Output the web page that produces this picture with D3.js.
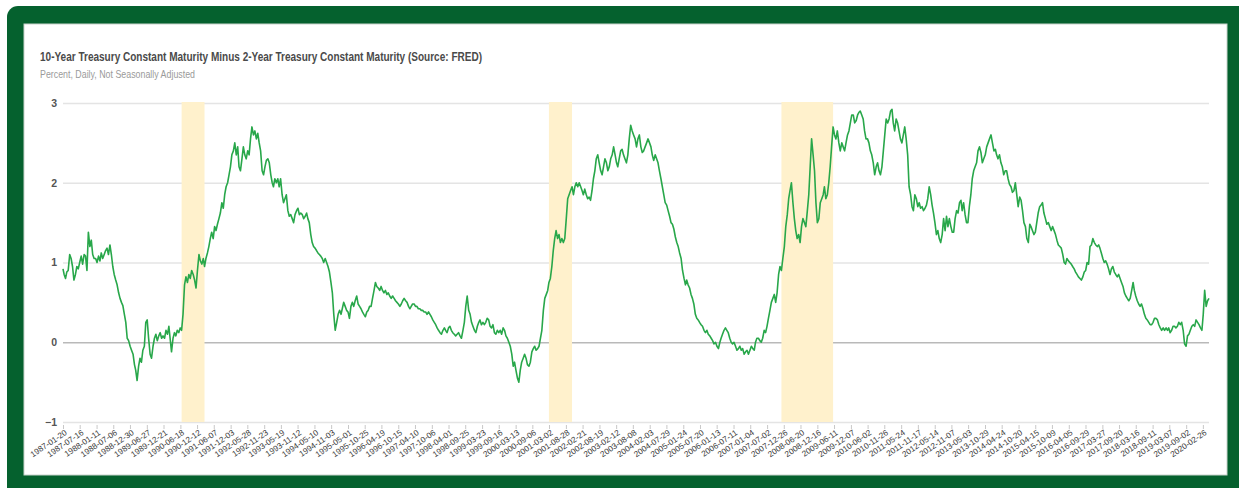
<!DOCTYPE html>
<html>
<head>
<meta charset="utf-8">
<script src="https://cdn.jsdelivr.net/npm/d3@7"></script>
<style>
  html, body { margin: 0; padding: 0; background: #fff; }
  svg { display: block; font-family: "Liberation Sans", Arial, sans-serif; }
</style>
</head>
<body>
<svg id="chart" width="1239" height="488"></svg>
<script>
// ---- Text ----
const chartTitle = "10-Year Treasury Constant Maturity Minus 2-Year Treasury Constant Maturity (Source: FRED)";
const chartSubtitle = "Percent, Daily, Not Seasonally Adjusted";

// ---- Axis ticks ----
const yTickValues = [-1, 0, 1, 2, 3];
const xTickLabels = [
  "1987-01-20","1987-07-16","1988-01-11","1988-07-06","1988-12-30","1989-06-27","1989-12-21",
  "1990-06-18","1990-12-12","1991-06-07","1991-12-03","1992-05-28","1992-11-23","1993-05-19",
  "1993-11-12","1994-05-10","1994-11-03","1995-05-01","1995-10-25","1996-04-19","1996-10-15",
  "1997-04-10","1997-10-06","1998-04-01","1998-09-25","1999-03-23","1999-09-16","2000-03-13",
  "2000-09-06","2001-03-02","2001-08-28","2002-02-21","2002-08-19","2003-02-12","2003-08-08",
  "2004-02-03","2004-07-29","2005-01-24","2005-07-20","2006-01-13","2006-07-11","2007-01-04",
  "2007-07-02","2007-12-26","2008-06-20","2008-12-16","2009-06-11","2009-12-07","2010-06-02",
  "2010-11-26","2011-05-24","2011-11-17","2012-05-14","2012-11-07","2013-05-03","2013-10-29",
  "2014-04-24","2014-10-20","2015-04-15","2015-10-09","2016-04-05","2016-09-29","2017-03-27",
  "2017-09-20","2018-03-16","2018-09-11","2019-03-07","2019-09-02","2020-02-26"
];

// ---- Recession periods (shaded) ----
const recessionStarts = ["1990-07-01", "2001-03-01", "2007-12-01"];
const recessionEnds   = ["1991-03-01", "2001-11-01", "2009-06-01"];

// ---- Spread values, percent ----
// first value is 1987-01-20, then the 1st and 16th of every month, last value 2020-05-01
const spread1987_1991 = [
  0.92, 0.85,0.80, 0.88,0.90, 1.10,1.05, 0.95,0.78, 0.85,0.95, 0.92,1.00, 1.08,0.98, 1.10,1.08, 0.90,1.38, 1.20,1.28, 1.10,1.05,
  1.05,1.00, 1.08,1.02, 1.12,1.05, 1.10,1.15, 1.18,1.10, 1.22,1.10, 0.95,0.85, 0.78,0.72, 0.62,0.55, 0.50,0.46, 0.35,0.25, 0.05,0.02,
  -0.05,-0.10, -0.15,-0.28, -0.35,-0.48, -0.30,-0.20, -0.25,-0.10, -0.05,0.25, 0.28,0.05, -0.15,-0.20, -0.05,0.05, 0.10,0.02, 0.08,0.12, 0.05,0.08,
  0.05,0.15, 0.10,0.20, 0.05,-0.12, 0.05,0.12, 0.08,0.15, 0.12,0.18, 0.15,0.35, 0.72,0.82, 0.75,0.85, 0.80,0.90, 0.85,0.78, 0.68,0.90,
  1.10,1.02, 0.98,1.05, 0.95,1.05, 1.12,1.20, 1.30,1.38, 1.30,1.45, 1.40,1.48, 1.55,1.62, 1.75,1.68, 1.85,1.95, 2.00,2.10, 2.20,2.35
];
const spread1992_1999 = [
  2.40,2.50, 2.35,2.45, 2.20,2.15, 2.30,2.45, 2.35,2.30, 2.40,2.35, 2.55,2.70, 2.60,2.65, 2.55,2.62, 2.50,2.40, 2.15,2.10, 2.20,2.28,
  2.30,2.25, 2.10,2.00, 1.95,2.05, 2.00,2.05, 1.95,2.05, 1.85,1.75, 1.80,1.85, 1.65,1.58, 1.60,1.55, 1.50,1.60, 1.65,1.68, 1.60,1.62,
  1.60,1.55, 1.58,1.62, 1.55,1.50, 1.35,1.25, 1.20,1.18, 1.15,1.12, 1.10,1.08, 1.05,1.00, 1.05,1.00, 0.95,0.88, 0.75,0.62, 0.35,0.15,
  0.25,0.35, 0.40,0.35, 0.42,0.50, 0.45,0.40, 0.38,0.30, 0.45,0.50, 0.45,0.52, 0.58,0.48, 0.45,0.42, 0.38,0.35, 0.32,0.38, 0.40,0.45,
  0.45,0.55, 0.65,0.75, 0.70,0.68, 0.65,0.70, 0.65,0.62, 0.65,0.60, 0.62,0.58, 0.55,0.58, 0.55,0.52, 0.50,0.48, 0.45,0.48, 0.52,0.55,
  0.52,0.50, 0.45,0.42, 0.45,0.48, 0.48,0.45, 0.45,0.42, 0.42,0.40, 0.40,0.38, 0.38,0.35, 0.38,0.35, 0.32,0.28, 0.25,0.22, 0.18,0.15,
  0.12,0.10, 0.15,0.18, 0.15,0.12, 0.18,0.20, 0.15,0.12, 0.10,0.08, 0.10,0.12, 0.08,0.05, 0.15,0.25, 0.45,0.58, 0.40,0.35, 0.25,0.20,
  0.15,0.12, 0.20,0.25, 0.28,0.22, 0.25,0.22, 0.25,0.30, 0.28,0.20, 0.18,0.22, 0.12,0.10, 0.15,0.12, 0.15,0.10, 0.18,0.15, 0.08,0.05
];
const spread2000_2007 = [
  0.00,-0.05, -0.15,-0.30, -0.25,-0.35, -0.45,-0.50, -0.35,-0.25, -0.20,-0.15, -0.20,-0.28, -0.30,-0.25, -0.12,-0.08, -0.05,-0.10, -0.08,-0.05, 0.05,0.15,
  0.40,0.55, 0.60,0.65, 0.75,0.80, 0.95,1.15, 1.30,1.40, 1.30,1.35, 1.25,1.30, 1.25,1.30, 1.55,1.80, 1.85,1.90, 1.95,1.85, 1.95,2.00,
  1.95,2.00, 1.95,1.90, 1.85,1.92, 1.85,1.80, 1.82,1.78, 1.90,2.05, 2.15,2.30, 2.35,2.25, 2.15,2.10, 2.20,2.30, 2.25,2.15, 2.20,2.30,
  2.35,2.45, 2.35,2.25, 2.20,2.30, 2.40,2.42, 2.35,2.30, 2.25,2.35, 2.55,2.72, 2.65,2.60, 2.55,2.45, 2.55,2.60, 2.45,2.38, 2.40,2.45,
  2.50,2.55, 2.50,2.45, 2.35,2.28, 2.35,2.30, 2.25,2.15, 2.05,1.95, 1.85,1.75, 1.72,1.65, 1.58,1.50, 1.48,1.42, 1.32,1.25, 1.20,1.12,
  1.05,0.90, 0.80,0.72, 0.78,0.72, 0.68,0.60, 0.55,0.48, 0.35,0.30, 0.28,0.25, 0.22,0.20, 0.15,0.12, 0.15,0.10, 0.08,0.05, 0.02,-0.02,
  0.00,-0.05, -0.08,0.00, 0.05,0.10, 0.15,0.18, 0.15,0.12, 0.05,0.00, -0.02,0.00, -0.05,-0.10, -0.08,-0.05, -0.10,-0.08, -0.15,-0.12, -0.10,-0.15,
  -0.10,-0.05, -0.08,-0.10, 0.00,0.05, 0.05,0.02, 0.00,0.05, 0.15,0.12, 0.20,0.30, 0.40,0.50, 0.55,0.60, 0.50,0.62, 0.85,0.95, 0.90,1.05
];
const spread2008_2013 = [
  1.20,1.45, 1.60,1.80, 1.90,2.00, 1.75,1.55, 1.40,1.30, 1.35,1.25, 1.45,1.55, 1.50,1.45, 1.65,1.85, 2.20,2.55, 2.35,2.15, 1.75,1.50,
  1.55,1.75, 1.80,1.85, 1.95,1.80, 1.85,2.00, 2.20,2.45, 2.70,2.60, 2.55,2.65, 2.50,2.40, 2.50,2.45, 2.40,2.50, 2.60,2.65, 2.75,2.85,
  2.85,2.75, 2.78,2.85, 2.88,2.90, 2.85,2.80, 2.65,2.55, 2.55,2.50, 2.40,2.35, 2.25,2.10, 2.20,2.25, 2.15,2.10, 2.20,2.40, 2.60,2.80,
  2.75,2.80, 2.90,2.92, 2.75,2.65, 2.80,2.75, 2.65,2.55, 2.50,2.60, 2.70,2.55, 2.35,1.95, 1.85,1.70, 1.65,1.85, 1.80,1.70, 1.75,1.68,
  1.70,1.65, 1.68,1.72, 1.80,1.95, 1.85,1.72, 1.62,1.50, 1.35,1.40, 1.30,1.25, 1.35,1.55, 1.40,1.58, 1.45,1.55, 1.45,1.38, 1.38,1.55,
  1.65,1.62, 1.75,1.78, 1.65,1.75, 1.60,1.50, 1.50,1.70, 1.85,2.05, 2.15,2.20, 2.25,2.40, 2.45,2.38, 2.25,2.30, 2.35,2.45, 2.50,2.55
];
const spread2014_2020 = [
  2.60,2.50, 2.40,2.42, 2.35,2.30, 2.35,2.25, 2.20,2.10, 2.15,2.15, 2.05,1.98, 1.95,1.88, 1.90,2.00, 1.85,1.70, 1.82,1.78, 1.65,1.50,
  1.45,1.30, 1.25,1.48, 1.45,1.40, 1.35,1.38, 1.50,1.62, 1.70,1.72, 1.75,1.62, 1.55,1.48, 1.50,1.45, 1.40,1.45, 1.40,1.35, 1.28,1.22,
  1.20,1.18, 1.10,1.00, 0.98,1.05, 1.02,1.00, 0.98,0.95, 0.92,0.88, 0.85,0.82, 0.80,0.78, 0.82,0.88, 0.90,1.00, 0.98,1.20, 1.22,1.30,
  1.25,1.22, 1.20,1.22, 1.18,1.12, 1.05,1.00, 1.02,0.98, 0.92,0.85, 0.92,0.95, 0.88,0.85, 0.82,0.85, 0.80,0.75, 0.70,0.62, 0.58,0.55,
  0.52,0.55, 0.65,0.75, 0.65,0.58, 0.52,0.48, 0.45,0.48, 0.42,0.35, 0.30,0.28, 0.25,0.22, 0.22,0.25, 0.30,0.30, 0.28,0.22, 0.18,0.15,
  0.18,0.15, 0.18,0.15, 0.18,0.12, 0.15,0.20, 0.20,0.18, 0.20,0.25, 0.22,0.25, 0.15,-0.02, -0.05,0.08, 0.10,0.15, 0.20,0.22, 0.20,0.28,
  0.25,0.22, 0.18,0.15, 0.35,0.65, 0.45,0.52, 0.55
];

const spreadValues = [].concat(spread1987_1991, spread1992_1999, spread2000_2007, spread2008_2013, spread2014_2020);

const parseDate = d3.utcParse("%Y-%m-%d");
const firstDate = parseDate("1987-01-20");
const series = spreadValues.map((v, i) => ({
  date: i === 0 ? firstDate
               : new Date(Date.UTC(1987, 1 + Math.floor((i - 1) / 2), (i - 1) % 2 ? 16 : 1)),
  value: v
}));

// ---- Layout ----
const svg = d3.select("#chart");
const plot = { left: 63, right: 1209, top: 103, bottom: 422 };

// outer frame
svg.append("rect").attr("x", 7).attr("y", 6).attr("width", 1250).attr("height", 500)
  .attr("rx", 11).attr("fill", "#05612e");
svg.append("rect").attr("x", 24).attr("y", 24).attr("width", 1203).attr("height", 451)
  .attr("fill", "#fff").attr("stroke", "#c9d3cc").attr("stroke-width", 1);

// titles
svg.append("text").attr("x", 40).attr("y", 61)
  .attr("font-size", 12.5).attr("font-weight", "bold").attr("fill", "#4a4a4a")
  .attr("textLength", 442).attr("lengthAdjust", "spacingAndGlyphs")
  .text(chartTitle);
svg.append("text").attr("x", 40).attr("y", 78)
  .attr("font-size", 10.5).attr("fill", "#9a9a9a")
  .attr("textLength", 155).attr("lengthAdjust", "spacingAndGlyphs")
  .text(chartSubtitle);

// ---- Scales ----
const x = d3.scaleUtc()
  .domain([firstDate, series[series.length - 1].date])
  .range([plot.left, plot.right]);
const y = d3.scaleLinear().domain([-1, 3]).range([plot.bottom, plot.top]);

// gridlines + y labels
const yAxis = d3.axisLeft(y).tickValues(yTickValues).tickSize(-(plot.right - plot.left)).tickFormat(d3.format("d")).tickPadding(6);
const gy = svg.append("g").attr("transform", `translate(${plot.left},0)`).call(yAxis);
gy.select(".domain").remove();
gy.selectAll(".tick line")
  .attr("stroke", d => d === 0 ? "#b9b9b9" : "#e4e4e4")
  .attr("stroke-width", d => d === 0 ? 1.4 : 1.6);
gy.selectAll(".tick text")
  .attr("font-size", 10.5).attr("font-weight", "bold").attr("fill", "#555")
  .attr("font-family", "'Liberation Sans', Arial, sans-serif");

// recession shading
svg.append("g").selectAll("rect")
  .data(recessionStarts.map((s, i) => [parseDate(s), parseDate(recessionEnds[i])]))
  .join("rect")
  .attr("x", d => x(d[0]))
  .attr("width", d => x(d[1]) - x(d[0]))
  .attr("y", plot.top - 1)
  .attr("height", plot.bottom - plot.top + 1)
  .attr("fill", "#fff1cc");

// x axis: ticks and rotated date labels
const xTicks = xTickLabels.map(parseDate);
const xAxis = d3.axisBottom(x).tickValues(xTicks).tickSize(4).tickFormat(d3.utcFormat("%Y-%m-%d"));
const gx = svg.append("g").attr("transform", `translate(0,${plot.bottom + 3})`).call(xAxis);
gx.select(".domain").remove();
gx.selectAll(".tick line").attr("stroke", "#c8c8c8");
gx.selectAll(".tick text")
  .attr("font-size", 8.2).attr("fill", "#3a3a3a")
  .attr("font-family", "'Liberation Sans', Arial, sans-serif")
  .attr("text-anchor", "end")
  .attr("dy", null)
  .attr("y", 0)
  .attr("transform", "translate(4,9) rotate(-34)");

// the spread line
const line = d3.line().x(d => x(d.date)).y(d => y(d.value));
svg.append("path").datum(series)
  .attr("d", line)
  .attr("fill", "none")
  .attr("stroke", "#28a74a")
  .attr("stroke-width", 1.6)
  .attr("stroke-linejoin", "round");
</script>
</body>
</html>
